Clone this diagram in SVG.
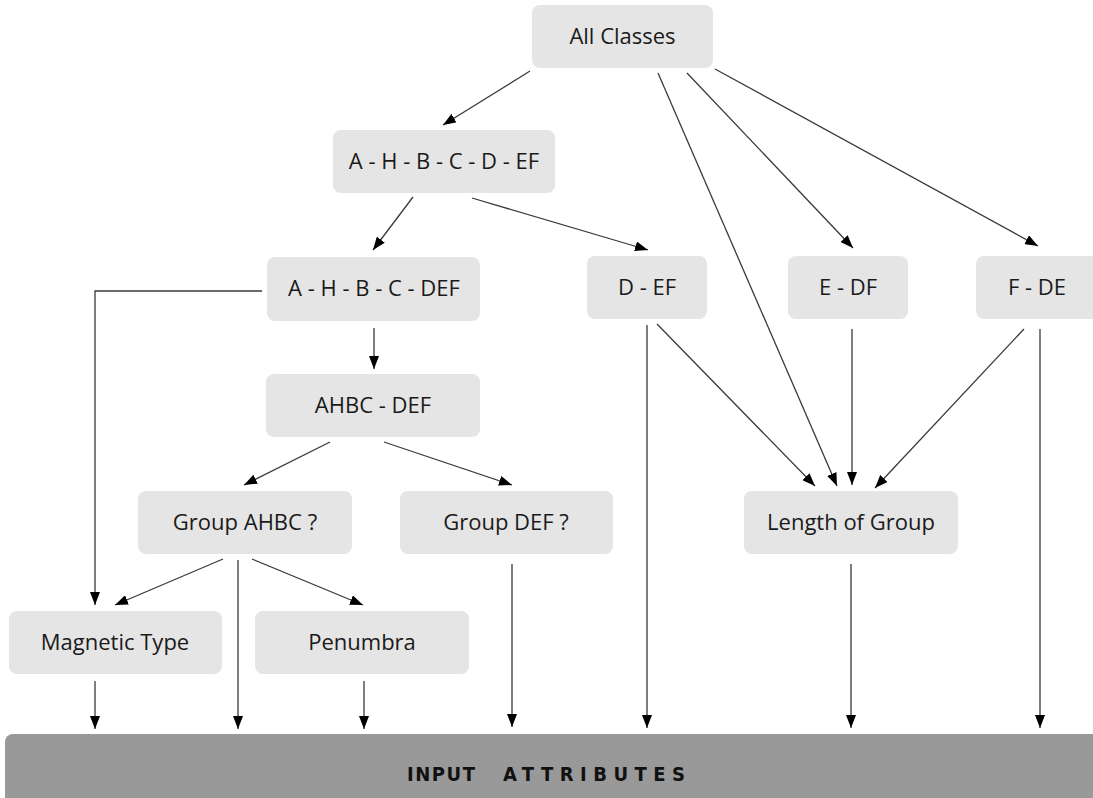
<svg xmlns="http://www.w3.org/2000/svg" width="1093" height="798" viewBox="0 0 1093 798">
<style>
.box{fill:#e5e5e5;}
.lbl{font-family:"Open Sans","Liberation Sans",sans-serif;font-size:22px;fill:#1a1a1a;text-anchor:middle;}
.c{stroke:#3a3a3a;stroke-width:1.3;fill:none;marker-end:url(#ah);}
.bar{fill:#999999;}
.bartxt{font-family:"Liberation Sans Narrow","DejaVu Sans Condensed","Open Sans",sans-serif;font-size:20px;font-weight:bold;fill:#111;}
</style>
<defs>
<marker id="ah" markerUnits="userSpaceOnUse" markerWidth="14" markerHeight="10" refX="13" refY="5" orient="auto">
<path d="M0,0 L13,5 L0,10 Z" fill="#000"/>
</marker>
</defs>
<rect class="bar" x="5" y="734" width="1100" height="80" rx="8"/>
<text class="bartxt" x="407" y="781" textLength="68" lengthAdjust="spacing">INPUT</text>
<text class="bartxt" x="503" y="781" textLength="182" lengthAdjust="spacing">ATTRIBUTES</text>
<g id="n-all"><rect class="box" x="532" y="5" width="181" height="63" rx="8"/><text class="lbl" x="622.5" y="44">All Classes</text></g>
<g id="n-ahbcdef"><rect class="box" x="333" y="130" width="222" height="63" rx="8"/><text class="lbl" x="444" y="169">A - H - B - C - D - EF</text></g>
<g id="n-ahbc-def1"><rect class="box" x="267" y="257" width="213" height="64" rx="8"/><text class="lbl" x="374" y="296">A - H - B - C - DEF</text></g>
<g id="n-d-ef"><rect class="box" x="587" y="256" width="120" height="63" rx="8"/><text class="lbl" x="647" y="295">D - EF</text></g>
<g id="n-e-df"><rect class="box" x="788" y="256" width="120" height="63" rx="8"/><text class="lbl" x="848" y="295">E - DF</text></g>
<g id="n-f-de"><rect class="box" x="976" y="256" width="122" height="63" rx="8"/><text class="lbl" x="1037" y="295">F - DE</text></g>
<g id="n-ahbc-def"><rect class="box" x="266" y="374" width="214" height="63" rx="8"/><text class="lbl" x="373" y="413">AHBC - DEF</text></g>
<g id="n-group-ahbc"><rect class="box" x="138" y="491" width="214" height="63" rx="8"/><text class="lbl" x="245" y="530">Group AHBC ?</text></g>
<g id="n-group-def"><rect class="box" x="400" y="491" width="213" height="63" rx="8"/><text class="lbl" x="506" y="530">Group DEF ?</text></g>
<g id="n-length"><rect class="box" x="744" y="491" width="214" height="63" rx="8"/><text class="lbl" x="851" y="530">Length of Group</text></g>
<g id="n-magnetic"><rect class="box" x="9" y="611" width="213" height="63" rx="8"/><text class="lbl" x="115" y="650">Magnetic Type</text></g>
<g id="n-penumbra"><rect class="box" x="255" y="611" width="214" height="63" rx="8"/><text class="lbl" x="362" y="650">Penumbra</text></g>
<g id="connectors">
<line class="c" x1="530" y1="71" x2="443" y2="125"/>
<line class="c" x1="658" y1="73" x2="837" y2="486"/>
<line class="c" x1="687" y1="73" x2="853" y2="248"/>
<line class="c" x1="715" y1="69" x2="1038" y2="246"/>
<line class="c" x1="413" y1="197" x2="373" y2="250"/>
<line class="c" x1="472" y1="198" x2="648" y2="250"/>
<polyline class="c" points="262,291 95,291 95,605"/>
<line class="c" x1="374" y1="328" x2="374" y2="369"/>
<line class="c" x1="330" y1="442" x2="244" y2="485"/>
<line class="c" x1="384" y1="442" x2="512" y2="485"/>
<line class="c" x1="223" y1="559" x2="115" y2="605"/>
<line class="c" x1="238" y1="560" x2="238" y2="729"/>
<line class="c" x1="252" y1="559" x2="363" y2="605"/>
<line class="c" x1="95" y1="681" x2="95" y2="729"/>
<line class="c" x1="364" y1="681" x2="364" y2="729"/>
<line class="c" x1="512" y1="564" x2="512" y2="727"/>
<line class="c" x1="647" y1="325" x2="647" y2="728"/>
<line class="c" x1="657" y1="324" x2="815" y2="486"/>
<line class="c" x1="852" y1="329" x2="852" y2="485"/>
<line class="c" x1="1024" y1="329" x2="875" y2="488"/>
<line class="c" x1="1040" y1="329" x2="1040" y2="728"/>
<line class="c" x1="851" y1="564" x2="851" y2="728"/>
</g>
</svg>
